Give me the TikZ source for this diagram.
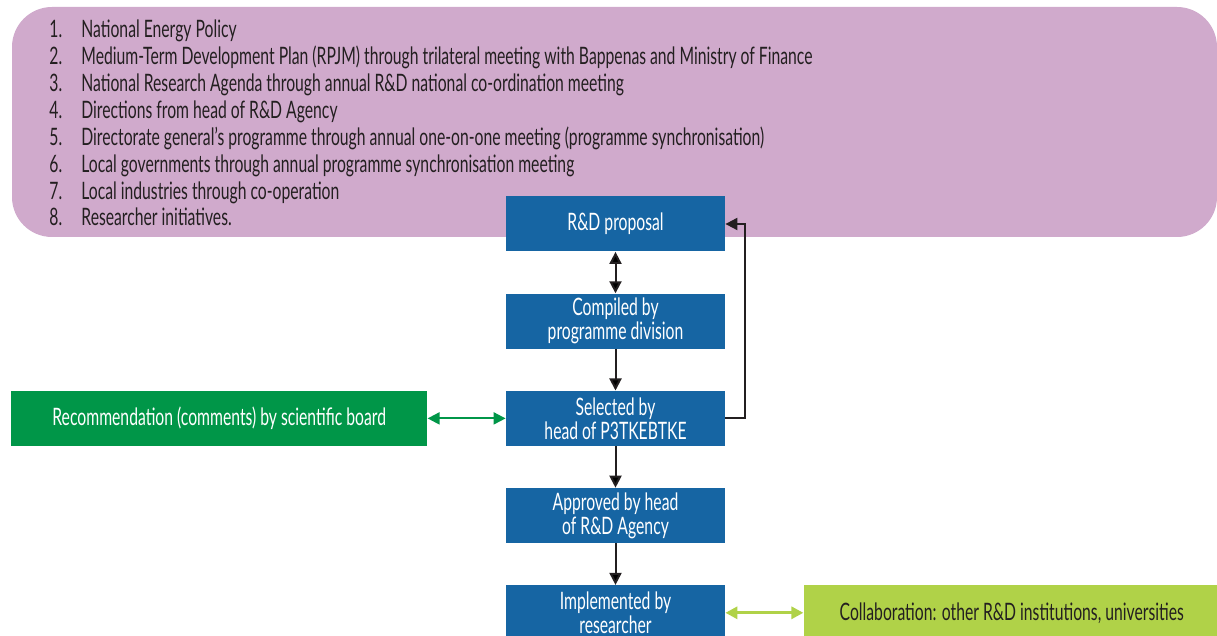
\documentclass[tikz,border=0pt]{standalone}
\usepackage{fontspec}
\setmainfont{Lato}[FakeStretch=0.655]
\usetikzlibrary{positioning,arrows.meta}
\definecolor{inputpurple}{RGB}{208,170,204}
\definecolor{stepblue}{RGB}{22,101,163}
\definecolor{boardgreen}{RGB}{0,150,72}
\definecolor{collablime}{RGB}{176,210,72}
\definecolor{ink}{RGB}{35,31,32}

\begin{document}
\begin{tikzpicture}[x=0.5pt,y=-0.5pt,node distance=20.7pt,
  font=\fontsize{12}{12}\selectfont,
  stepbox/.style={fill=stepblue,text=white,minimum width=109.5pt,minimum height=27.5pt,
    inner sep=0pt,align=center},
  sidebox/.style={minimum width=208pt,minimum height=27.5pt,inner sep=0pt,align=center},
  arr/.style={-{Triangle[length=6pt,width=6pt]},line width=1pt,draw=ink},
  dblarr/.style={{Triangle[length=6pt,width=6pt]}-{Triangle[length=6pt,width=6pt]},line width=1pt}]
 % \draw[help lines] (0,0) grid (1217,636);
  \useasboundingbox (0,0) rectangle (1217,636);

  % sources of proposals
  \fill[inputpurple,rounded corners=20pt] (12,7) rectangle (1217,237);
  \foreach \txt [count=\i] in {
      {National Energy Policy},
      {Medium-Term Development Plan (RPJM) through trilateral meeting with Bappenas and Ministry of Finance},
      {National Research Agenda through annual R\&D national co-ordination meeting},
      {Directions from head of R\&D Agency},
      {Directorate general’s programme through annual one-on-one meeting (programme synchronisation)},
      {Local governments through annual programme synchronisation meeting},
      {Local industries through co-operation},
      {Researcher initiatives.}}
  {
    \node[anchor=base west,inner sep=0pt,text=ink] (num\i) at (49,{38+26.85*(\i-1)}) {\i.};
    \node[anchor=base west,inner sep=0pt,text=ink] (src\i) at (81,{38+26.85*(\i-1)}) {\txt};
  }

  \node[stepbox] (prop) at (615.5,224) {R\&D proposal};
  \node[stepbox] (comp) [below=of prop] {Compiled by\\programme division};
  \node[stepbox] (sel)  [below=of comp] {Selected by\\head of P3TKEBTKE};
  \node[stepbox] (appr) [below=of sel]  {Approved by head\\of R\&D Agency};
  \node[stepbox] (impl) [below=of appr] {Implemented by\\researcher};

  \node[sidebox,fill=boardgreen,text=white] (board) [left=39pt of sel]
    {Recommendation (comments) by scientific board};
  \node[sidebox,fill=collablime,text=ink] (collab) [right=39pt of impl]
    {Collaboration: other R\&D institutions, universities};

  \path[dblarr,draw=ink] (prop) edge (comp);
  \path[arr] (comp) edge (sel)
             (sel)  edge (appr)
             (appr) edge (impl);
  \draw[arr] (sel.east) -- ++(10pt,0) |- (prop.east);
  \draw[dblarr,draw=boardgreen] (board) -- (sel);
  \draw[dblarr,line width=1.5pt,draw=collablime] (impl) -- (collab);
\end{tikzpicture}
\end{document}
